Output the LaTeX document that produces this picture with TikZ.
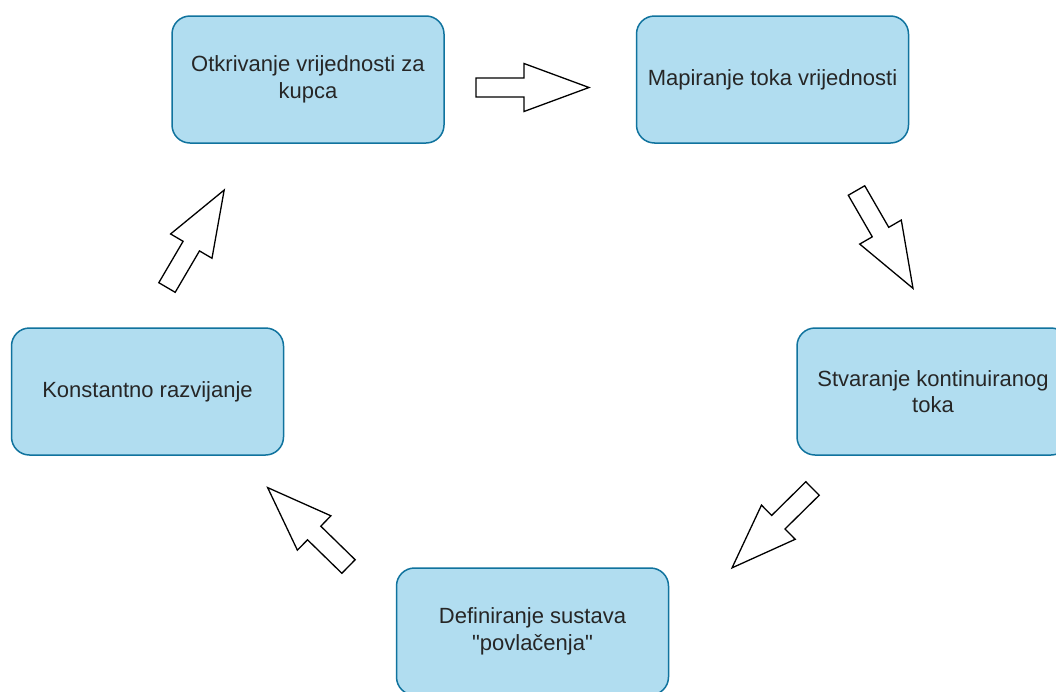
\documentclass[tikz,border=0pt]{standalone}
\usepackage{fontspec}
\setmainfont{Liberation Sans}
\newfontfamily\plainfont{Liberation Sans}
\definecolor{boxfill}{HTML}{B1DDF0}
\definecolor{boxline}{HTML}{10739E}
\definecolor{txt}{HTML}{262626}
\tikzset{
  stepbox/.style={draw=boxline, fill=boxfill, line width=1.5pt, rounded corners=18pt,
    minimum width=272pt, minimum height=127pt, inner sep=0pt, align=center,
    text=txt, font=\plainfont\fontsize{22}{26.5}\selectfont},
  barrow/.pic={
    \draw[line width=1.3pt, fill=white, line join=miter, miter limit=10]
      (0,-9.5) -- (48,-9.5) -- (48,-24) -- (113,0) -- (48,24) -- (48,9.5) -- (0,9.5) -- cycle;
  }
}
\begin{document}
\begin{tikzpicture}[x=1pt,y=-1pt]
\clip (0,0) rectangle (1056,691);
\fill[white] (0,0) rectangle (1056,691);
\node[stepbox] (b1) at (308,79.5) {Otkrivanje vrijednosti za\\kupca};
\node[stepbox] (b2) at (772.5,79.5) {Mapiranje toka vrijednosti};
\node[stepbox] (b3) at (933,391.5) {Stvaranje kontinuiranog\\toka};
\node[stepbox] (b4) at (532.5,631.5) {Definiranje sustava\\"povlačenja"};
\node[stepbox] (b5) at (147.5,391.5) {Konstantno razvijanje};
\coordinate (a1) at (476,87.5);
\coordinate (a2) at (856.5,190.5);
\coordinate (a3) at (812.5,488.5);
\coordinate (a4) at (348.5,566.5);
\coordinate (a5) at (167,287.5);
\pic[rotate=0] at (a1) {barrow};
\pic[rotate=-60] at (a2) {barrow};
\pic[rotate=-135.4] at (a3) {barrow};
\pic[rotate=135.7] at (a4) {barrow};
\pic[rotate=59.6] at (a5) {barrow};
\end{tikzpicture}
\end{document}
